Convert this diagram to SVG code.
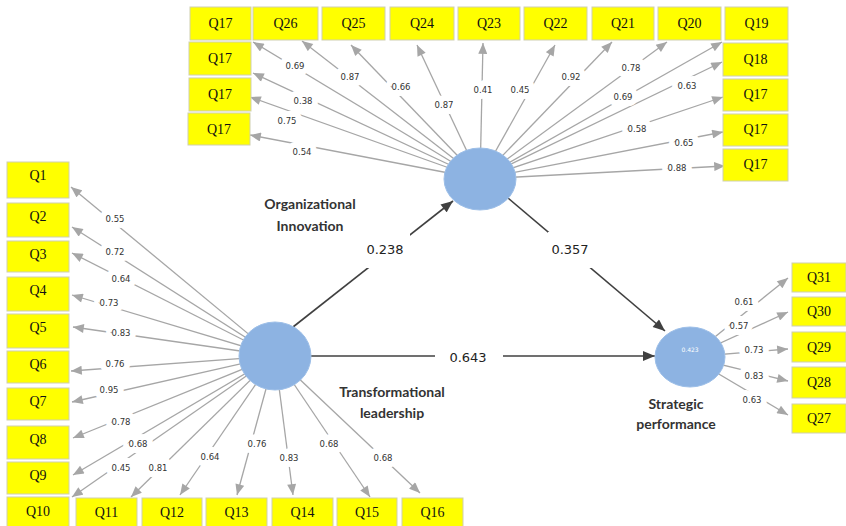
<svg xmlns="http://www.w3.org/2000/svg" width="846" height="526" viewBox="0 0 846 526">
<defs>
<style>
.bx{fill:#ffff00;stroke:#cfcfb0;stroke-width:1}
.qt{font-family:"Liberation Serif",serif;font-size:14px;fill:#111;text-anchor:middle}
.ind{stroke:#a6a6a6;stroke-width:1.3;fill:none;marker-end:url(#ga)}
.str{stroke:#404040;stroke-width:1.6;fill:none}
.sa{marker-end:url(#da)}
.ld{font-family:"DejaVu Sans",sans-serif;font-size:8.5px;fill:#333;text-anchor:middle;stroke:#fff;stroke-width:12;paint-order:stroke;stroke-linejoin:round}
.pc{font-family:"DejaVu Sans",sans-serif;font-size:13px;fill:#222;text-anchor:middle}
.gap{fill:#fff}
.nm{font-family:Lato,"Liberation Sans",sans-serif;font-weight:bold;font-size:14px;fill:#333;text-anchor:middle}
.cir{fill:#8db3e2;stroke:#9dbfe8;stroke-width:1}
</style>
<marker id="ga" viewBox="0 0 12 10" refX="12" refY="5" markerWidth="12" markerHeight="9" markerUnits="userSpaceOnUse" orient="auto"><path d="M0,0 L12,5 L0,10 z" fill="#a6a6a6"/></marker>
<marker id="da" viewBox="0 0 12 10" refX="12" refY="5" markerWidth="13" markerHeight="10" markerUnits="userSpaceOnUse" orient="auto"><path d="M0,0 L12,5 L0,10 z" fill="#404040"/></marker>
</defs>
<rect width="846" height="526" fill="#fff"/>
<g id="connectors">
<!-- Organizational Innovation indicators -->
<line class="ind" x1="480" y1="179" x2="253" y2="42"/>
<line class="ind" x1="480" y1="179" x2="302" y2="41"/>
<line class="ind" x1="480" y1="179" x2="351" y2="45"/>
<line class="ind" x1="480" y1="179" x2="417" y2="45"/>
<line class="ind" x1="480" y1="179" x2="483" y2="43"/>
<line class="ind" x1="480" y1="179" x2="555" y2="45"/>
<line class="ind" x1="480" y1="179" x2="612" y2="42"/>
<line class="ind" x1="480" y1="179" x2="667" y2="42"/>
<line class="ind" x1="480" y1="179" x2="722" y2="42"/>
<line class="ind" x1="480" y1="179" x2="722" y2="62"/>
<line class="ind" x1="480" y1="179" x2="723" y2="97"/>
<line class="ind" x1="480" y1="179" x2="723" y2="132"/>
<line class="ind" x1="480" y1="179" x2="725" y2="166"/>
<line class="ind" x1="480" y1="179" x2="253" y2="73"/>
<line class="ind" x1="480" y1="179" x2="250" y2="97"/>
<line class="ind" x1="480" y1="179" x2="250" y2="135"/>
<!-- Transformational leadership indicators -->
<line class="ind" x1="275" y1="356" x2="71" y2="187"/>
<line class="ind" x1="275" y1="356" x2="72" y2="227"/>
<line class="ind" x1="275" y1="356" x2="72" y2="253"/>
<line class="ind" x1="275" y1="356" x2="72" y2="295"/>
<line class="ind" x1="275" y1="356" x2="73" y2="327"/>
<line class="ind" x1="275" y1="356" x2="71" y2="371"/>
<line class="ind" x1="275" y1="356" x2="72" y2="402"/>
<line class="ind" x1="275" y1="356" x2="73" y2="438"/>
<line class="ind" x1="275" y1="356" x2="73" y2="475"/>
<line class="ind" x1="275" y1="356" x2="72" y2="497"/>
<line class="ind" x1="275" y1="356" x2="131" y2="497"/>
<line class="ind" x1="275" y1="356" x2="180" y2="495"/>
<line class="ind" x1="275" y1="356" x2="237" y2="495"/>
<line class="ind" x1="275" y1="356" x2="293" y2="495"/>
<line class="ind" x1="275" y1="356" x2="370" y2="497"/>
<line class="ind" x1="275" y1="356" x2="420" y2="493"/>
<!-- Strategic performance indicators -->
<line class="ind" x1="690" y1="357" x2="788" y2="278"/>
<line class="ind" x1="690" y1="357" x2="788" y2="312"/>
<line class="ind" x1="690" y1="357" x2="788" y2="349"/>
<line class="ind" x1="690" y1="357" x2="788" y2="381"/>
<line class="ind" x1="690" y1="357" x2="788" y2="415"/>
<!-- structural paths -->
<line class="str sa" x1="293" y1="327" x2="453" y2="201"/>
<line class="str sa" x1="508" y1="198" x2="665" y2="331"/>
<line class="str sa" x1="311" y1="356" x2="655" y2="356"/>
<!-- loadings -->
<text class="ld" x="295" y="69">0.69</text>
<text class="ld" x="350" y="80">0.87</text>
<text class="ld" x="401" y="90">0.66</text>
<text class="ld" x="444" y="108">0.87</text>
<text class="ld" x="483" y="93">0.41</text>
<text class="ld" x="520" y="93">0.45</text>
<text class="ld" x="571" y="80">0.92</text>
<text class="ld" x="631" y="71">0.78</text>
<text class="ld" x="623" y="100">0.69</text>
<text class="ld" x="687" y="89">0.63</text>
<text class="ld" x="637" y="132">0.58</text>
<text class="ld" x="684" y="146">0.65</text>
<text class="ld" x="677" y="171">0.88</text>
<text class="ld" x="303" y="104">0.38</text>
<text class="ld" x="287" y="124">0.75</text>
<text class="ld" x="302" y="155">0.54</text>
<text class="ld" x="115" y="222">0.55</text>
<text class="ld" x="115" y="255">0.72</text>
<text class="ld" x="121" y="282">0.64</text>
<text class="ld" x="109" y="306">0.73</text>
<text class="ld" x="121" y="336">0.83</text>
<text class="ld" x="115" y="367">0.76</text>
<text class="ld" x="109" y="393">0.95</text>
<text class="ld" x="121" y="425">0.78</text>
<text class="ld" x="138" y="447">0.68</text>
<text class="ld" x="121" y="471">0.45</text>
<text class="ld" x="158" y="471">0.81</text>
<text class="ld" x="210" y="460">0.64</text>
<text class="ld" x="257" y="447">0.76</text>
<text class="ld" x="289" y="461">0.83</text>
<text class="ld" x="329" y="447">0.68</text>
<text class="ld" x="383" y="461">0.68</text>
<text class="ld" x="744" y="305">0.61</text>
<text class="ld" x="739" y="329">0.57</text>
<text class="ld" x="754" y="353">0.73</text>
<text class="ld" x="754" y="379">0.83</text>
<text class="ld" x="752" y="403">0.63</text>
<rect class="gap" x="364" y="232" width="46" height="36"/>
<rect class="gap" x="548" y="232" width="46" height="36"/>
<rect class="gap" x="435" y="348" width="68" height="18"/>
<text class="pc" x="385" y="254">0.238</text>
<text class="pc" x="570" y="254">0.357</text>
<text class="pc" x="468" y="362">0.643</text>
</g>
<g id="node-OI">
<ellipse class="cir" cx="480" cy="179" rx="36" ry="31"/>
<text class="nm" x="310" y="209">Organizational</text>
<text class="nm" x="310" y="231">Innovation</text>
</g>
<g id="node-TL">
<ellipse class="cir" cx="275" cy="356" rx="36" ry="34"/>
<text class="nm" x="392" y="397">Transformational</text>
<text class="nm" x="392" y="418">leadership</text>
</g>
<g id="node-SP">
<ellipse class="cir" cx="690" cy="357" rx="35" ry="30"/>
<text x="690" y="352" font-family="DejaVu Sans,sans-serif" font-size="6px" fill="#fff" text-anchor="middle">0.423</text>
<text class="nm" x="676" y="409">Strategic</text>
<text class="nm" x="676" y="429">performance</text>
</g>
<g id="q17-top-a"><rect class="bx" x="190" y="7" width="61" height="33"/><text class="qt" x="220.5" y="28">Q17</text></g>
<g id="q26"><rect class="bx" x="253" y="7" width="65" height="33"/><text class="qt" x="285.5" y="28">Q26</text></g>
<g id="q25"><rect class="bx" x="322" y="7" width="63" height="33"/><text class="qt" x="353.5" y="28">Q25</text></g>
<g id="q24"><rect class="bx" x="390" y="7" width="64" height="33"/><text class="qt" x="422" y="28">Q24</text></g>
<g id="q23"><rect class="bx" x="458" y="7" width="62" height="33"/><text class="qt" x="489" y="28">Q23</text></g>
<g id="q22"><rect class="bx" x="524" y="7" width="63" height="33"/><text class="qt" x="555.5" y="28">Q22</text></g>
<g id="q21"><rect class="bx" x="592" y="7" width="62" height="33"/><text class="qt" x="623" y="28">Q21</text></g>
<g id="q20"><rect class="bx" x="658" y="7" width="63" height="33"/><text class="qt" x="689.5" y="28">Q20</text></g>
<g id="q19"><rect class="bx" x="725" y="7" width="63" height="33"/><text class="qt" x="756.5" y="28">Q19</text></g>
<g id="q18"><rect class="bx" x="723" y="43" width="65" height="33"/><text class="qt" x="755.5" y="64">Q18</text></g>
<g id="q17-right-a"><rect class="bx" x="723" y="79" width="65" height="32"/><text class="qt" x="755.5" y="99">Q17</text></g>
<g id="q17-right-b"><rect class="bx" x="723" y="114" width="65" height="32"/><text class="qt" x="755.5" y="134">Q17</text></g>
<g id="q17-right-c"><rect class="bx" x="723" y="149" width="65" height="32"/><text class="qt" x="755.5" y="169">Q17</text></g>
<g id="q17-left-a"><rect class="bx" x="189" y="42" width="62" height="33"/><text class="qt" x="220" y="63">Q17</text></g>
<g id="q17-left-b"><rect class="bx" x="189" y="78" width="62" height="33"/><text class="qt" x="220" y="99">Q17</text></g>
<g id="q17-left-c"><rect class="bx" x="188" y="113" width="62" height="32"/><text class="qt" x="219" y="134">Q17</text></g>
<g id="q1"><rect class="bx" x="7" y="162" width="62" height="36"/><text class="qt" x="38" y="180">Q1</text></g>
<g id="q2"><rect class="bx" x="7" y="203" width="62" height="34"/><text class="qt" x="38" y="221">Q2</text></g>
<g id="q3"><rect class="bx" x="7" y="241" width="62" height="31"/><text class="qt" x="38" y="259">Q3</text></g>
<g id="q4"><rect class="bx" x="7" y="277" width="62" height="34"/><text class="qt" x="38" y="295">Q4</text></g>
<g id="q5"><rect class="bx" x="7" y="314" width="62" height="34"/><text class="qt" x="38" y="332">Q5</text></g>
<g id="q6"><rect class="bx" x="7" y="351" width="62" height="32"/><text class="qt" x="38" y="369">Q6</text></g>
<g id="q7"><rect class="bx" x="7" y="388" width="62" height="32"/><text class="qt" x="38" y="406">Q7</text></g>
<g id="q8"><rect class="bx" x="7" y="426" width="62" height="33"/><text class="qt" x="38" y="444">Q8</text></g>
<g id="q9"><rect class="bx" x="7" y="462" width="62" height="32"/><text class="qt" x="38" y="480">Q9</text></g>
<g id="q10"><rect class="bx" x="7" y="497" width="62" height="31"/><text class="qt" x="38" y="516">Q10</text></g>
<g id="q11"><rect class="bx" x="76" y="498" width="61" height="30"/><text class="qt" x="106.5" y="517">Q11</text></g>
<g id="q12"><rect class="bx" x="142" y="498" width="60" height="30"/><text class="qt" x="172" y="517">Q12</text></g>
<g id="q13"><rect class="bx" x="206" y="498" width="61" height="30"/><text class="qt" x="236.5" y="517">Q13</text></g>
<g id="q14"><rect class="bx" x="272" y="498" width="61" height="30"/><text class="qt" x="302.5" y="517">Q14</text></g>
<g id="q15"><rect class="bx" x="337" y="498" width="60" height="30"/><text class="qt" x="367" y="517">Q15</text></g>
<g id="q16"><rect class="bx" x="402" y="498" width="61" height="30"/><text class="qt" x="432.5" y="517">Q16</text></g>
<g id="q31"><rect class="bx" x="792" y="263" width="54" height="29"/><text class="qt" x="819" y="282">Q31</text></g>
<g id="q30"><rect class="bx" x="792" y="297" width="54" height="29"/><text class="qt" x="819" y="316">Q30</text></g>
<g id="q29"><rect class="bx" x="792" y="332" width="54" height="30"/><text class="qt" x="819" y="352">Q29</text></g>
<g id="q28"><rect class="bx" x="792" y="367" width="54" height="31"/><text class="qt" x="819" y="387">Q28</text></g>
<g id="q27"><rect class="bx" x="792" y="404" width="54" height="29"/><text class="qt" x="819" y="423">Q27</text></g>
</svg>
